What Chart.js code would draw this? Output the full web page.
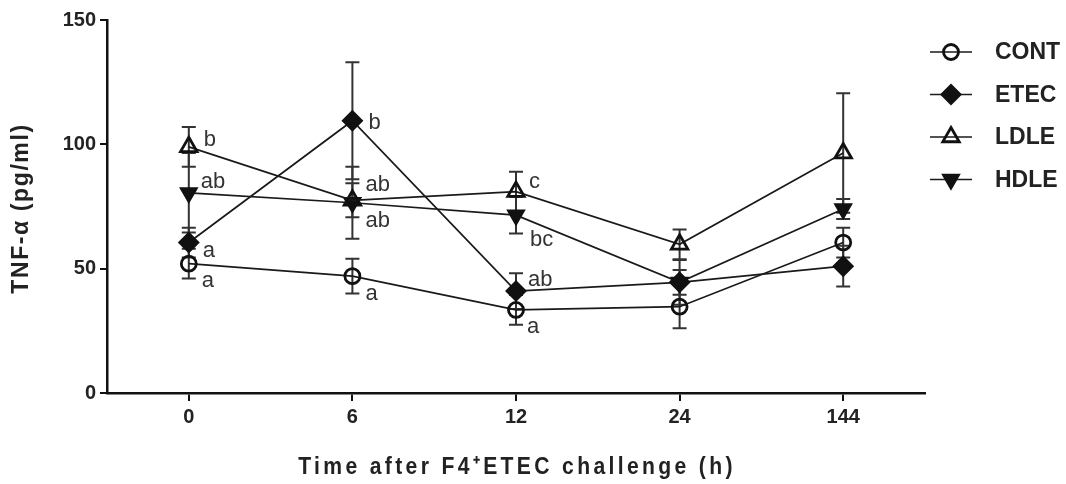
<!DOCTYPE html>
<html>
<head>
<meta charset="utf-8">
<script src="https://cdn.jsdelivr.net/npm/chart.js@4"></script>
<style>
html,body{margin:0;padding:0;background:#fff;}
#wrap{width:1066px;height:484px;position:relative;}
</style>
</head>
<body>
<div id="wrap"><canvas id="c" width="1066" height="484"></canvas></div>
<script>
// ---- data ----
const timeLabels = ['0', '6', '12', '24', '144'];
const seriesNames = ['CONT', 'ETEC', 'LDLE', 'HDLE'];
const contMean = [52, 47, 33.4, 34.7, 60.5];
const contSE   = [6, 7, 6, 8.7, 6];
const etecMean = [60.5, 109.5, 41, 44.5, 51];
const etecSE   = [6, 23.5, 7.2, 9, 8.2];
const ldleMean = [99, 77.5, 81, 59.8, 96.5];
const ldleSE   = [8, 6.8, 8, 6, 24];
const hdleMean = [80.5, 76.5, 71.5, 44.5, 74];
const hdleSE   = [16, 14.5, 7.4, 5, 4];
const contLetters = ['a', 'a', 'a', '', ''];
const etecLetters = ['a', 'b', 'ab', '', ''];
const ldleLetters = ['b', 'ab', 'c', '', ''];
const hdleLetters = ['ab', 'ab', 'bc', '', ''];
const yTicks = [0, 50, 100, 150];
const xTitle = 'Time after F4\u207AETEC challenge (h)';
const yTitle = 'TNF-\u03B1 (pg/ml)';

// ---- styles (positions of letter labels relative to point, px) ----
const letterOffsets = [
  [[13, 17], [13, 18], [11, 17], [0, 0], [0, 0]],      // CONT
  [[14, 8], [16, 2], [12, -11], [0, 0], [0, 0]],      // ETEC
  [[15, -7], [13, -15], [13, -10], [0, 0], [0, 0]],   // LDLE
  [[12, -11], [13, 18], [14, 25], [0, 0], [0, 0]]     // HDLE
];
const FONT = "'Liberation Sans', Arial, sans-serif";

const means = [contMean, etecMean, ldleMean, hdleMean];
const ses = [contSE, etecSE, ldleSE, hdleSE];
const letters = [contLetters, etecLetters, ldleLetters, hdleLetters];
const pStyles = ['circle', 'rectRot', 'triangle', 'triangle'];
const pRot = [0, 0, 0, 180];
const pFill = ['rgba(0,0,0,0)', '#111', 'rgba(0,0,0,0)', '#111'];
const pRad = [7.5, 9, 9.5, 8.5];

const datasets = seriesNames.map((n, i) => ({
  label: n,
  data: means[i],
  borderColor: '#1a1a1a',
  borderWidth: 1.7,
  pointStyle: pStyles[i],
  pointRotation: pRot[i],
  pointRadius: pRad[i],
  pointHoverRadius: pRad[i],
  pointBackgroundColor: pFill[i],
  pointBorderColor: '#111',
  pointBorderWidth: 2.8,
  tension: 0,
  fill: false
}));

const extras = {
  id: 'extras',
  beforeDatasetsDraw(chart) {
    const ctx = chart.ctx;
    const xs = chart.scales.x, ys = chart.scales.y;
    ctx.save();
    ctx.strokeStyle = '#333';
    ctx.lineWidth = 2;
    means.forEach((m, i) => {
      m.forEach((v, j) => {
        const x = xs.getPixelForValue(j);
        const yt = ys.getPixelForValue(v + ses[i][j]);
        const yb = ys.getPixelForValue(v - ses[i][j]);
        ctx.beginPath();
        ctx.moveTo(x, yt); ctx.lineTo(x, yb);
        ctx.moveTo(x - 7, yt); ctx.lineTo(x + 7, yt);
        ctx.moveTo(x - 7, yb); ctx.lineTo(x + 7, yb);
        ctx.stroke();
      });
    });
    ctx.restore();
  },
  afterDatasetsDraw(chart) {
    const ctx = chart.ctx;
    const xs = chart.scales.x, ys = chart.scales.y;
    const ca = chart.chartArea;
    ctx.save();
    ctx.fillStyle = '#333';
    ctx.font = '22px ' + FONT;
    ctx.textAlign = 'left';
    ctx.textBaseline = 'middle';
    letters.forEach((arr, i) => {
      arr.forEach((t, j) => {
        if (!t) return;
        const x = xs.getPixelForValue(j) + letterOffsets[i][j][0];
        const y = ys.getPixelForValue(means[i][j]) + letterOffsets[i][j][1];
        ctx.fillText(t, x, y);
      });
    });
    // axis titles
    ctx.fillStyle = '#222';
    ctx.textAlign = 'center';
    ctx.textBaseline = 'middle';
    ctx.save();
    ctx.translate((ca.left + ca.right) / 2 + 1, 467);
    ctx.scale(0.88, 1);
    ctx.font = 'bold 24px ' + FONT;
    ctx.letterSpacing = '3.8px';
    ctx.fillText(xTitle, 0, 0);
    ctx.restore();
    ctx.save();
    ctx.translate(22, (ca.top + ca.bottom) / 2 + 2);
    ctx.rotate(-Math.PI / 2);
    ctx.font = 'bold 23px ' + FONT;
    ctx.letterSpacing = '1.6px';
    ctx.fillText(yTitle, 0, 0);
    ctx.restore();
    // legend
    const lx = 930, ly0 = 52, dy = 42.5;
    seriesNames.forEach((n, i) => {
      const y = ly0 + i * dy;
      ctx.strokeStyle = '#1a1a1a';
      ctx.lineWidth = 1.7;
      ctx.beginPath(); ctx.moveTo(lx, y); ctx.lineTo(lx + 42, y); ctx.stroke();
      ctx.lineWidth = 2.8;
      ctx.strokeStyle = '#111';
      ctx.fillStyle = pFill[i];
      Chart.helpers.drawPoint(ctx, {pointStyle: pStyles[i], rotation: pRot[i], radius: pRad[i], borderWidth: 2.8}, lx + 21, y);
      ctx.fillStyle = '#222';
      ctx.font = 'bold 23px ' + FONT;
      ctx.letterSpacing = '0px';
      ctx.textAlign = 'left';
      ctx.textBaseline = 'middle';
      ctx.fillText(n, lx + 65, y + 1);
    });
    ctx.restore();
  }
};

new Chart(document.getElementById('c'), {
  type: 'line',
  data: { labels: timeLabels, datasets },
  options: {
    responsive: false,
    animation: false,
    devicePixelRatio: 1,
    layout: { padding: { top: 20, right: 141, left: 0, bottom: 0 } },
    plugins: { legend: { display: false }, tooltip: { enabled: false } },
    scales: {
      x: {
        type: 'category',
        offset: true,
        grid: { offset: false, drawOnChartArea: false, drawTicks: true, tickLength: 8, color: '#111', lineWidth: 2 },
        border: { color: '#111', width: 2.5 },
        ticks: { color: '#222', font: { family: FONT, size: 20, weight: 'bold' }, padding: 4 },
        title: { display: false },
        afterFit(s) { s.height = 91; }
      },
      y: {
        min: 0, max: 150,
        afterBuildTicks(s) { s.ticks = yTicks.map(v => ({ value: v })); },
        grid: { drawOnChartArea: false, drawTicks: true, tickLength: 7, color: '#111', lineWidth: 2 },
        border: { color: '#111', width: 2.5 },
        ticks: { color: '#222', font: { family: FONT, size: 20, weight: 'bold' }, padding: 4 },
        title: { display: false },
        afterFit(s) { s.width = 107; }
      }
    }
  },
  plugins: [extras]
});
</script>
</body>
</html>
